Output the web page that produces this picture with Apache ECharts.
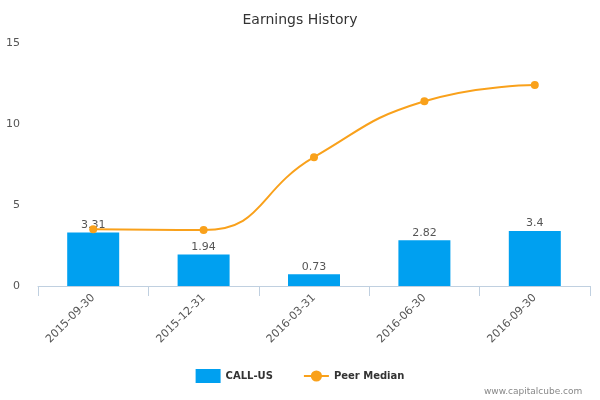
<!DOCTYPE html>
<html><head><meta charset="utf-8">
<script src="https://cdn.jsdelivr.net/npm/echarts@6/dist/echarts.min.js"></script>
<style>html,body{margin:0;padding:0;background:#fff}#c{width:600px;height:400px}</style>
</head><body><div id="c"></div>
<script>
const categories = ['2015-09-30','2015-12-31','2016-03-31','2016-06-30','2016-09-30'];
const callUs = [3.31, 1.94, 0.73, 2.82, 3.4];
const peerMedian = [3.5, 3.45, 7.95, 11.4, 12.4];
const yTicks = [0, 5, 10, 15];
const chart = echarts.init(document.getElementById('c'));
chart.setOption({
  animation: false,
  title: {text: 'Earnings History', left: 'center', top: 8, textStyle: {fontFamily: 'DejaVu Sans', fontSize: 14, fontWeight: 'normal', color: '#333'}},
  grid: {left: 38, right: 10, top: 43, bottom: 114},
  legend: {bottom: 12, left: 'center', itemGap: 30, textStyle: {fontFamily: 'DejaVu Sans', fontSize: 10, fontWeight: 'bold', color: '#333'},
    data: [{name: 'CALL-US', icon: 'rect'}, {name: 'Peer Median'}]},
  xAxis: {type: 'category', data: categories, axisLine: {lineStyle: {color: '#c0d0e0'}},
    axisTick: {show: true, length: 10, lineStyle: {color: '#c0d0e0'}, interval: 0, alignWithLabel: false},
    axisLabel: {rotate: 45, fontFamily: 'DejaVu Sans', fontSize: 11, color: '#555', interval: 0, margin: 10}},
  yAxis: {type: 'value', min: yTicks[0], max: yTicks[yTicks.length-1], interval: 5,
    axisLabel: {fontFamily: 'DejaVu Sans', fontSize: 11, color: '#555', margin: 18},
    splitLine: {show: false}, axisLine: {show: false}, axisTick: {show: false}},
  series: [
    {name: 'CALL-US', type: 'bar', data: callUs, barWidth: 52, itemStyle: {color: '#00a0f0'},
     label: {show: true, position: 'top', fontFamily: 'DejaVu Sans', fontSize: 11, color: '#555', distance: 2}},
    {name: 'Peer Median', type: 'line', data: peerMedian, smooth: 0.5, symbol: 'circle', symbolSize: 8,
     itemStyle: {color: '#f9a11b'}, lineStyle: {color: '#f9a11b', width: 2}}
  ]
});
</script>
<div style="position:absolute;left:484px;top:386px;font:9px 'DejaVu Sans';color:#888">www.capitalcube.com</div>
</body></html>
